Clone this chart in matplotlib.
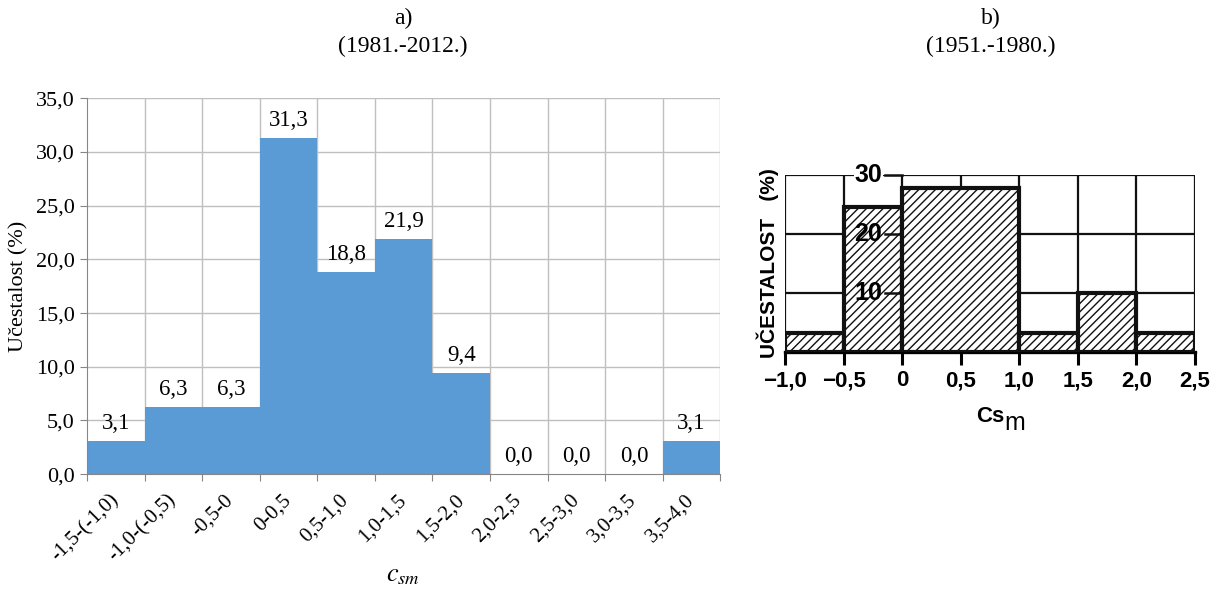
import numpy as np
import matplotlib
matplotlib.use("Agg")
import matplotlib.pyplot as plt
from matplotlib.ticker import FuncFormatter

plt.rcParams["mathtext.fontset"] = "stix"

# panel a) 1981.-2012.
classes_a = ["-1,5-(-1,0)", "-1,0-(-0,5)", "-0,5-0", "0-0,5", "0,5-1,0", "1,0-1,5",
             "1,5-2,0", "2,0-2,5", "2,5-3,0", "3,0-3,5", "3,5-4,0"]
freq_a = [3.1, 6.3, 6.3, 31.3, 18.8, 21.9, 9.4, 0.0, 0.0, 0.0, 3.1]

# panel b) 1951.-1980. (scanned histogram)
edges_b = [-1.0, -0.5, 0.0, 1.0, 1.5, 2.0, 2.5]
freq_b = [3.3, 24.5, 27.8, 3.3, 10.0, 3.3]
xticks_b = [-1.0, -0.5, 0.0, 0.5, 1.0, 1.5, 2.0, 2.5]
xtick_labels_b = ["\u22121,0", "\u22120,5", "0", "0,5", "1,0", "1,5", "2,0", "2,5"]
yticks_b = [10, 20, 30]

SERIF = "Liberation Serif"
SANS = "Liberation Sans"
BLUE = "#5B9BD5"
GRID = "#BFBFBF"

fig = plt.figure(figsize=(12.14, 5.92), dpi=100)

# ---------- a) ----------
ax = fig.add_axes([0.0717, 0.199, 0.5216, 0.635])
x = np.arange(len(classes_a))
ax.bar(x, freq_a, width=1.0, color=BLUE, zorder=2)
ax.set_xlim(-0.5, len(classes_a) - 0.5)
ax.set_ylim(0, 35)
ax.set_yticks(np.arange(0, 36, 5))
ax.yaxis.set_major_formatter(FuncFormatter(lambda v, p: f"{v:.1f}".replace(".", ",")))
for yy in np.arange(5, 36, 5):
    ax.axhline(yy, color=GRID, lw=1.0, zorder=1)
for xx in np.arange(0.5, len(classes_a) - 0.5, 1):
    ax.axvline(xx, color=GRID, lw=1.0, zorder=1)
ax.axvline(len(classes_a) - 0.5, color=GRID, lw=1.0, zorder=1)
for s in ["top", "right"]:
    ax.spines[s].set_visible(False)
for s in ["left", "bottom"]:
    ax.spines[s].set_color("#868686")
ax.set_xticks(np.arange(-0.5, len(classes_a), 1))
ax.set_xticklabels([])
ax.tick_params(axis="x", length=5, color="#868686")
ax.tick_params(axis="y", length=5, color="#868686", labelsize=16, pad=4)
for lab in ax.get_yticklabels():
    lab.set_fontfamily(SERIF)
for i, lab in enumerate(classes_a):
    ax.annotate(lab, xy=(i, 0), xycoords=("data", "axes fraction"),
                xytext=(-5, -12), textcoords="offset points",
                rotation=45, ha="right", va="top", rotation_mode="anchor",
                fontsize=15, family=SERIF)
for i, v in enumerate(freq_a):
    ax.annotate(f"{v:.1f}".replace(".", ","), xy=(i, v), xytext=(0, 5),
                textcoords="offset points", ha="center", va="bottom",
                fontsize=16.5, family=SERIF, zorder=3)
ax.set_ylabel("Učestalost (%)", fontsize=16, family=SERIF, labelpad=5)
fig.text(0.332, 0.008, "$c_{sm}$", ha="center", va="bottom", fontsize=19)
fig.text(0.332, 0.968, "a)", ha="center", va="center", fontsize=17, family=SERIF)
fig.text(0.332, 0.922, "(1981.-2012.)", ha="center", va="center", fontsize=17, family=SERIF)

# ---------- b) ----------
bx = fig.add_axes([0.6466, 0.405, 0.3377, 0.3])
bx.bar(edges_b[:-1], freq_b, width=np.diff(edges_b), align="edge",
       facecolor="white", edgecolor="#111111", hatch="////", lw=3.0, zorder=3)
bx.set_xlim(-1.0, 2.5)
bx.set_ylim(0, 30)
for yy in yticks_b:
    bx.axhline(yy, color="#111111", lw=1.6, zorder=1)
for xx in xticks_b:
    bx.axvline(xx, color="#111111", lw=1.6, zorder=1)
for s in bx.spines.values():
    s.set_visible(False)
bx.spines["bottom"].set_visible(True)
bx.spines["bottom"].set_linewidth(2.4)
bx.set_yticks([])
bx.set_xticks(xticks_b)
bx.set_xticklabels(xtick_labels_b, fontsize=16, family=SANS, fontweight="bold")
bx.tick_params(axis="x", length=9, width=2.2, pad=4)
for yy in yticks_b:
    bx.plot([-0.15, 0.0], [yy, yy], color="#111111", lw=1.8, zorder=4, clip_on=False)
    bx.text(-0.17, yy, str(yy), ha="right", va="center", fontsize=18, family=SANS,
            fontweight="bold", zorder=5,
            bbox=dict(facecolor="white", edgecolor="none", pad=0.5) if yy == 30 else None)
bx.set_ylabel("UČESTALOST   (%)", fontsize=15, family=SANS, fontweight="bold", labelpad=4)
fig.text(0.827, 0.297, "Cs", ha="right", va="center", fontsize=16, family=SANS, fontweight="bold")
fig.text(0.827, 0.285, "m", ha="left", va="center", fontsize=18, family=SANS)
fig.text(0.816, 0.968, "b)", ha="center", va="center", fontsize=17, family=SERIF)
fig.text(0.816, 0.922, "(1951.-1980.)", ha="center", va="center", fontsize=17, family=SERIF)

fig.savefig("out.png", dpi=100, facecolor="white")
